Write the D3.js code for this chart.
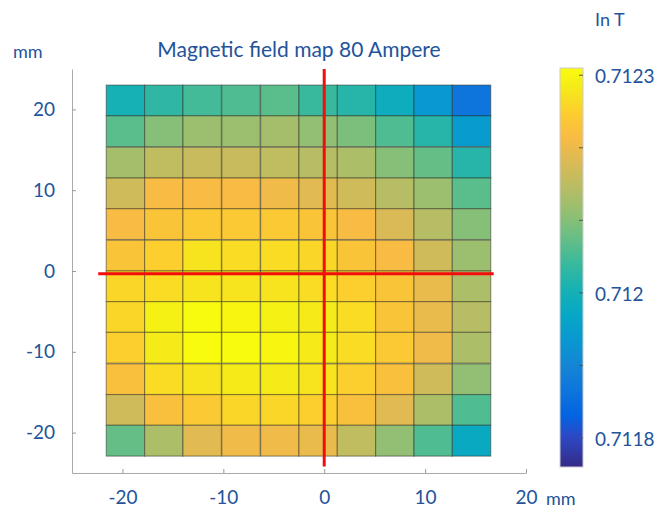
<!DOCTYPE html>
<html>
<head>
<meta charset="utf-8">
<script src="https://cdn.jsdelivr.net/npm/d3@7"></script>
<style>
  body { margin: 0; background: #fff; }
  text { font-family: Lato, "Open Sans", sans-serif; fill: #23539a; }
</style>
</head>
<body>
<div id="chart"></div>
<script>
// cell centres in mm
let xCenters = [-19.7, -15.9, -12.1, -8.25, -4.4, -0.6, 3.2, 7.0, 10.8, 14.6];
let yCenters = [21.1, 17.3, 13.4, 9.6, 5.8, 1.9, -1.9, -5.7, -9.5, -13.4, -17.2, -21.0];

// field in T, one row per yCenter (top to bottom)
let field = [
    [0.712004, 0.712031, 0.712048, 0.712057, 0.712066, 0.712039, 0.712022, 0.711987, 0.711935, 0.711865],
    [0.712066, 0.712100, 0.712118, 0.712118, 0.712127, 0.712109, 0.712092, 0.712057, 0.712022, 0.711943],
    [0.712127, 0.712153, 0.712162, 0.712162, 0.712153, 0.712144, 0.712135, 0.712100, 0.712074, 0.712022],
    [0.712170, 0.712214, 0.712214, 0.712214, 0.712205, 0.712188, 0.712170, 0.712144, 0.712118, 0.712066],
    [0.712214, 0.712231, 0.712240, 0.712240, 0.712240, 0.712231, 0.712214, 0.712179, 0.712144, 0.712100],
    [0.712231, 0.712249, 0.712275, 0.712266, 0.712266, 0.712258, 0.712231, 0.712214, 0.712170, 0.712118],
    [0.712258, 0.712266, 0.712275, 0.712275, 0.712275, 0.712266, 0.712249, 0.712231, 0.712197, 0.712135],
    [0.712258, 0.712293, 0.712310, 0.712301, 0.712293, 0.712284, 0.712266, 0.712231, 0.712197, 0.712144],
    [0.712249, 0.712284, 0.712310, 0.712310, 0.712301, 0.712284, 0.712266, 0.712240, 0.712205, 0.712135],
    [0.712223, 0.712266, 0.712275, 0.712284, 0.712284, 0.712275, 0.712249, 0.712223, 0.712170, 0.712109],
    [0.712170, 0.712223, 0.712240, 0.712258, 0.712258, 0.712249, 0.712223, 0.712188, 0.712135, 0.712057],
    [0.712074, 0.712135, 0.712188, 0.712205, 0.712205, 0.712197, 0.712153, 0.712109, 0.712057, 0.711978]
];

let axisTicks = [-20, -10, 0, 10, 20];
let colorTicks = [0.7123, 0.7122, 0.7121, 0.712, 0.7119, 0.7118];
let colorLabels = [0.7123, 0.712, 0.7118];
let colorDomain = [0.71176, 0.71231];

// parula samples
let parula = ["#352a87", "#2c4ac7", "#0363e1", "#0d75dc", "#1485d4", "#0998d1", "#06a7c6",
    "#15b1b4", "#38b99e", "#65be86", "#92bf73", "#b7bd64", "#d9ba56", "#f8bb44",
    "#fcce2e", "#f5eb18", "#f9fb0e"];
let parulaPos = [0, 5, 8, 12, 16, 20, 24, 28, 32, 36, 40, 44, 48, 52, 56, 60, 63].map(d => d / 63);

let cellW = 3.81, cellH = 3.82;

const width = 661;
const height = 509;

let svg = d3.select("#chart")
    .append("svg")
    .attr("width", width)
    .attr("height", height);

let x = d3.scaleLinear().domain([-25, 20]).range([72, 526]);
let y = d3.scaleLinear().domain([-25, 25]).range([473, 69]);

let t = d3.scaleLinear().domain(colorDomain).range([0, 1]).clamp(true);
let parulaScale = d3.scaleLinear().domain(parulaPos).range(parula).interpolate(d3.interpolateRgb);
let color = v => parulaScale(t(v));

let cells = [];
field.forEach((row, i) => row.forEach((v, j) => cells.push({ x: xCenters[j], y: yCenters[i], v: v })));

svg.append("g")
    .selectAll("rect")
    .data(cells)
    .enter()
    .append("rect")
    .attr("x", d => x(d.x - cellW / 2))
    .attr("y", d => y(d.y + cellH / 2))
    .attr("width", d => x(d.x + cellW / 2) - x(d.x - cellW / 2))
    .attr("height", d => y(d.y - cellH / 2) - y(d.y + cellH / 2))
    .attr("fill", d => color(d.v))
    .attr("stroke", "rgba(40,40,30,0.45)")
    .attr("stroke-width", 1.2);

// axes (plain hyphen for negatives)
let fmt = d => String(d);
let xAxis = svg.append("g")
    .attr("transform", "translate(0," + y(-25) + ")")
    .call(d3.axisBottom(x).tickValues(axisTicks).tickFormat(fmt).tickSize(-4).tickSizeOuter(0).tickPadding(18));
let yAxis = svg.append("g")
    .attr("transform", "translate(" + x(-25) + ",0)")
    .call(d3.axisLeft(y).tickValues(axisTicks).tickFormat(fmt).tickSize(-4).tickSizeOuter(0).tickPadding(17));

[xAxis, yAxis].forEach(a => {
    a.select(".domain").attr("stroke", "#aaa");
    a.selectAll(".tick line").attr("stroke", "#999");
    a.selectAll(".tick text")
        .attr("fill", "#23539a")
        .style("font-size", "19px")
        .style("font-family", "Lato, sans-serif");
});

// red cross
svg.append("line")
    .attr("x1", x(0)).attr("x2", x(0))
    .attr("y1", y(25)).attr("y2", y(-24.2))
    .attr("stroke", "#f20d0d").attr("stroke-width", 3);
svg.append("line")
    .attr("x1", x(-22.4)).attr("x2", x(16.8))
    .attr("y1", y(-0.35)).attr("y2", y(-0.35))
    .attr("stroke", "#f20d0d").attr("stroke-width", 3);

// titles
svg.append("text")
    .attr("x", (x(-25) + x(20)) / 2)
    .attr("y", 57)
    .attr("text-anchor", "middle")
    .style("font-size", "21px")
    .text("Magnetic field map 80 Ampere");
svg.append("text").attr("x", 13).attr("y", 58).style("font-size", "18px").text("mm");
svg.append("text").attr("x", 546).attr("y", 505).style("font-size", "18px").text("mm");
svg.append("text").attr("x", 595).attr("y", 26).style("font-size", "18px").text("In T");

// colorbar
let cb = d3.scaleLinear().domain(colorDomain).range([467, 68]);
let cbX = 560, cbW = 23;

let grad = svg.append("defs").append("linearGradient")
    .attr("id", "parula")
    .attr("x1", 0).attr("y1", 1).attr("x2", 0).attr("y2", 0);
grad.selectAll("stop")
    .data(parula)
    .enter()
    .append("stop")
    .attr("offset", (d, i) => parulaPos[i])
    .attr("stop-color", d => d);

svg.append("rect")
    .attr("x", cbX).attr("y", cb(colorDomain[1]))
    .attr("width", cbW).attr("height", cb(colorDomain[0]) - cb(colorDomain[1]))
    .attr("fill", "url(#parula)")
    .attr("stroke", "#ccc");

svg.append("g")
    .selectAll("line")
    .data(colorTicks)
    .enter()
    .append("line")
    .attr("x1", cbX + cbW - 4).attr("x2", cbX + cbW)
    .attr("y1", d => cb(d)).attr("y2", d => cb(d))
    .attr("stroke", "#555");

svg.append("g")
    .selectAll("text")
    .data(colorLabels)
    .enter()
    .append("text")
    .attr("x", 595)
    .attr("y", d => cb(d) + 8)
    .style("font-size", "19px")
    .text(d => d);
</script>
</body>
</html>
